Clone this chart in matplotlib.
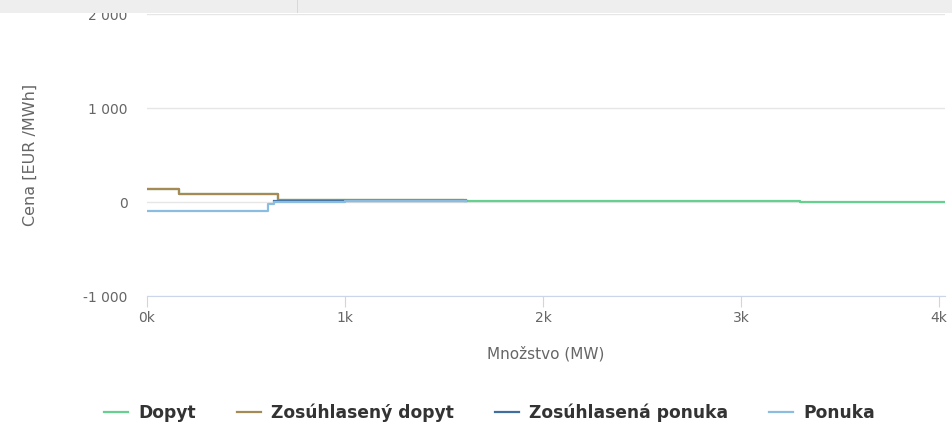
import matplotlib.pyplot as plt
from matplotlib.patches import Rectangle
from matplotlib.ticker import FuncFormatter

# data (MW, EUR/MWh), step curves
dopyt_x = [0, 160, 660, 1000, 1600, 2500, 3300, 4030]
dopyt_y = [140, 90, 25, 18, 12, 8, 4, 0]

zdopyt_x = [0, 160, 660, 1000, 1610]
zdopyt_y = [140, 90, 25, 18, 18]

zponuka_x = [640, 1000, 1610]
zponuka_y = [8, 10, 10]

ponuka_x = [0, 610, 640, 1000, 1610]
ponuka_y = [-100, -25, 5, 8, 10]

nazvy = ['Dopyt', 'Zosúhlasený dopyt', 'Zosúhlasená ponuka', 'Ponuka']
farby = ['#66d08e', '#a68a55', '#3f6f9f', '#8bbde0']

fig = plt.figure(figsize=(9.52, 4.26), dpi=100)
ax = fig.add_axes([147 / 952, (426 - 296) / 426, (945 - 147) / 952, (296 - 14) / 426])

ax.plot(dopyt_x, dopyt_y, drawstyle='steps-post', color=farby[0], lw=1.6, label=nazvy[0])
ax.plot(zdopyt_x, zdopyt_y, drawstyle='steps-post', color=farby[1], lw=1.6, label=nazvy[1])
ax.plot(zponuka_x, zponuka_y, drawstyle='steps-post', color=farby[2], lw=1.6, label=nazvy[2])
ax.plot(ponuka_x, ponuka_y, drawstyle='steps-post', color=farby[3], lw=1.6, label=nazvy[3])

ax.set_xlim(0, 4030)
ax.set_ylim(-1000, 2000)
ax.set_xticks([0, 1000, 2000, 3000, 4000])
ax.set_yticks([-1000, 0, 1000, 2000])
ax.xaxis.set_major_formatter(FuncFormatter(lambda v, p: '%dk' % (v / 1000)))
ax.yaxis.set_major_formatter(FuncFormatter(lambda v, p: '{:,}'.format(int(v)).replace(',', ' ')))

ax.grid(axis='y', color='#e6e6e6', lw=1)
ax.set_axisbelow(True)
for s in ['top', 'right', 'left']:
    ax.spines[s].set_visible(False)
ax.spines['bottom'].set_color('#ccd6eb')
ax.tick_params(axis='x', colors='#ccd6eb', length=8, labelcolor='#666666', labelsize=10, pad=3)
ax.tick_params(axis='y', length=0, labelcolor='#666666', labelsize=10, pad=14)

ax.set_xlabel('Množstvo (MW)', color='#666666', fontsize=11, labelpad=15)
ax.set_ylabel('Cena [EUR /MWh]', color='#666666', fontsize=11.5, labelpad=33)

leg = fig.legend(loc='center', bbox_to_anchor=(0.514, 0.032), ncol=4, frameon=False,
                 handlelength=1.4, handletextpad=0.6, columnspacing=2.4,
                 prop={'weight': 'bold', 'size': 12.3})
for t in leg.get_texts():
    t.set_color('#333333')

# grey toolbar strip at the top
fig.patches.append(Rectangle((0, (426 - 13) / 426), 1, 13 / 426, transform=fig.transFigure,
                             facecolor='#eeeeee', edgecolor='none', zorder=10))
fig.patches.append(Rectangle((297 / 952, (426 - 13) / 426), 1 / 952, 13 / 426, transform=fig.transFigure,
                             facecolor='#d8d8d8', edgecolor='none', zorder=11))

fig.savefig('out.png', dpi=100)
